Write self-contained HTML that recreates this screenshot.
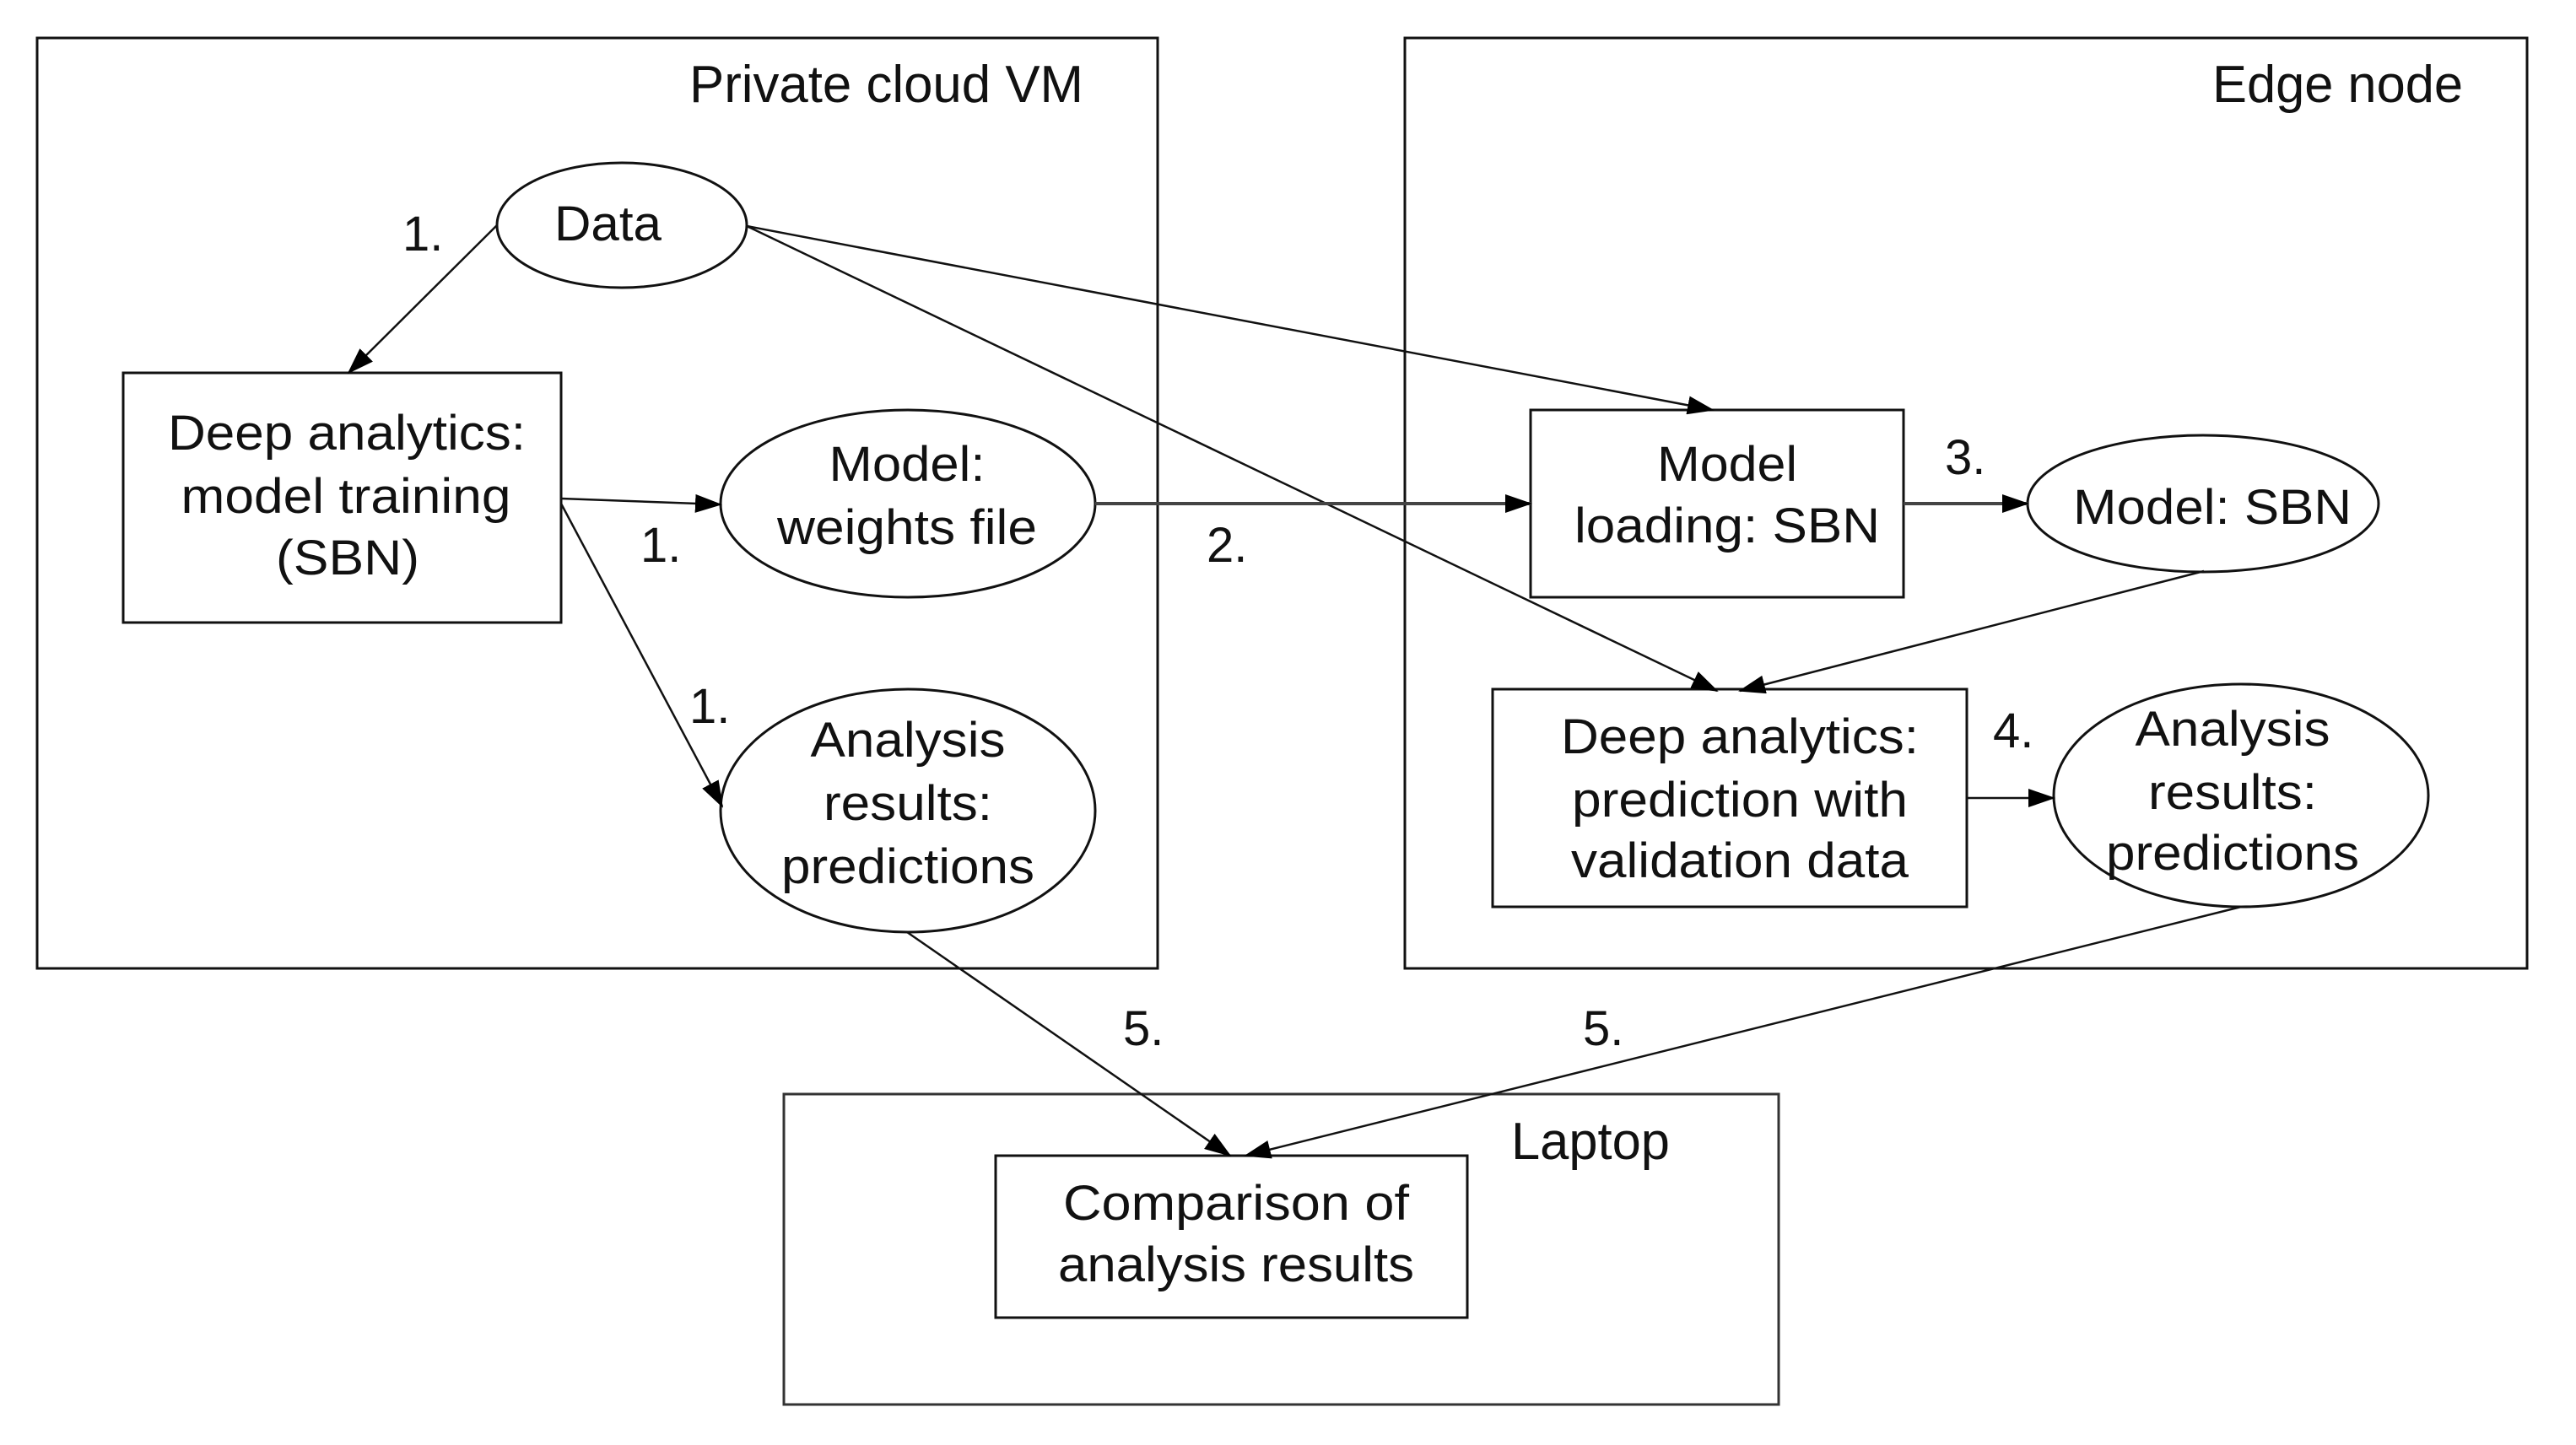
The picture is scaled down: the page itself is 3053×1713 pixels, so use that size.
<!DOCTYPE html>
<html><head><meta charset="utf-8"><style>html,body{margin:0;padding:0;background:#fff}svg{display:block}</style></head>
<body>
<svg xmlns="http://www.w3.org/2000/svg" width="3053" height="1713" viewBox="0 0 3053 1713">
<defs>
<marker id="a" markerWidth="32" markerHeight="22" refX="30" refY="11" orient="auto" markerUnits="userSpaceOnUse">
<path d="M0,0 L32,11 L0,22 z" fill="#000"/>
</marker>
</defs>
<g fill="none" stroke="#111" stroke-width="3">
<rect x="44" y="45" width="1328" height="1103"/>
<rect x="1665" y="45" width="1330" height="1103"/>
<rect x="929" y="1297" width="1179" height="368" stroke="#333"/>
<rect x="146" y="442" width="519" height="296"/>
<rect x="1814" y="486" width="442" height="222"/>
<rect x="1769" y="817" width="562" height="258"/>
<rect x="1180" y="1370" width="559" height="192"/>
<ellipse cx="737" cy="267" rx="148" ry="74"/>
<ellipse cx="1076" cy="597" rx="222" ry="111"/>
<ellipse cx="1076" cy="961" rx="222" ry="144"/>
<ellipse cx="2611" cy="597" rx="208" ry="81"/>
<ellipse cx="2656" cy="943" rx="222" ry="132"/>
</g>
<g fill="none" stroke="#111" stroke-width="2.5">
<line x1="589" y1="267" x2="413" y2="442" marker-end="url(#a)"/>
<line x1="665" y1="591" x2="854" y2="598" marker-end="url(#a)"/>
<line x1="665" y1="597" x2="856" y2="956" marker-end="url(#a)"/>
<line x1="885" y1="268" x2="2030" y2="486" marker-end="url(#a)"/>
<line x1="885" y1="268" x2="2035" y2="819" marker-end="url(#a)"/>
<line x1="1298" y1="597" x2="1814" y2="597" stroke="#444" stroke-width="4" marker-end="url(#a)"/>
<line x1="2256" y1="597" x2="2403" y2="597" stroke="#444" stroke-width="4" marker-end="url(#a)"/>
<line x1="2612" y1="677" x2="2062" y2="819" marker-end="url(#a)"/>
<line x1="2331" y1="946" x2="2434" y2="946" marker-end="url(#a)"/>
<line x1="1075" y1="1105" x2="1458" y2="1370" marker-end="url(#a)"/>
<line x1="2656" y1="1075" x2="1476" y2="1370" marker-end="url(#a)"/>
</g>
<g font-family="Liberation Sans, Arial, sans-serif" font-size="58" fill="#111" lengthAdjust="spacingAndGlyphs">
<text x="817" y="121" font-size="62" textLength="467" lengthAdjust="spacingAndGlyphs">Private cloud VM</text>
<text x="2622" y="121" font-size="62" textLength="297" lengthAdjust="spacingAndGlyphs">Edge node</text>
<text x="1791" y="1374" font-size="62" textLength="188" lengthAdjust="spacingAndGlyphs">Laptop</text>
<text x="657" y="285" textLength="127" lengthAdjust="spacingAndGlyphs">Data</text>
<text x="477" y="297">1.</text>
<text x="759" y="666">1.</text>
<text x="817" y="857">1.</text>
<text x="1430" y="666">2.</text>
<text x="2305" y="562">3.</text>
<text x="2362" y="886">4.</text>
<text x="1331" y="1239">5.</text>
<text x="1876" y="1239">5.</text>
<g text-anchor="middle">
<text x="411" y="533" textLength="424" lengthAdjust="spacingAndGlyphs">Deep analytics:</text>
<text x="410" y="608" textLength="391" lengthAdjust="spacingAndGlyphs">model training</text>
<text x="412" y="681" textLength="170" lengthAdjust="spacingAndGlyphs">(SBN)</text>
<text x="1075" y="570" textLength="185" lengthAdjust="spacingAndGlyphs">Model:</text>
<text x="1075" y="645" textLength="308" lengthAdjust="spacingAndGlyphs">weights file</text>
<text x="1076" y="897" textLength="231" lengthAdjust="spacingAndGlyphs">Analysis</text>
<text x="1076" y="972" textLength="200" lengthAdjust="spacingAndGlyphs">results:</text>
<text x="1076" y="1047" textLength="300" lengthAdjust="spacingAndGlyphs">predictions</text>
<text x="2047" y="570" textLength="166" lengthAdjust="spacingAndGlyphs">Model</text>
<text x="2047" y="643" textLength="362" lengthAdjust="spacingAndGlyphs">loading: SBN</text>
<text x="2622" y="621" textLength="330" lengthAdjust="spacingAndGlyphs">Model: SBN</text>
<text x="2062" y="893" textLength="424" lengthAdjust="spacingAndGlyphs">Deep analytics:</text>
<text x="2062" y="968" textLength="398" lengthAdjust="spacingAndGlyphs">prediction with</text>
<text x="2062" y="1040" textLength="400" lengthAdjust="spacingAndGlyphs">validation data</text>
<text x="2646" y="884" textLength="231" lengthAdjust="spacingAndGlyphs">Analysis</text>
<text x="2646" y="959" textLength="200" lengthAdjust="spacingAndGlyphs">results:</text>
<text x="2646" y="1031" textLength="300" lengthAdjust="spacingAndGlyphs">predictions</text>
<text x="1465" y="1446" textLength="410" lengthAdjust="spacingAndGlyphs">Comparison of</text>
<text x="1465" y="1519" textLength="422" lengthAdjust="spacingAndGlyphs">analysis results</text>
</g>
</g>
</svg>
</body></html>
